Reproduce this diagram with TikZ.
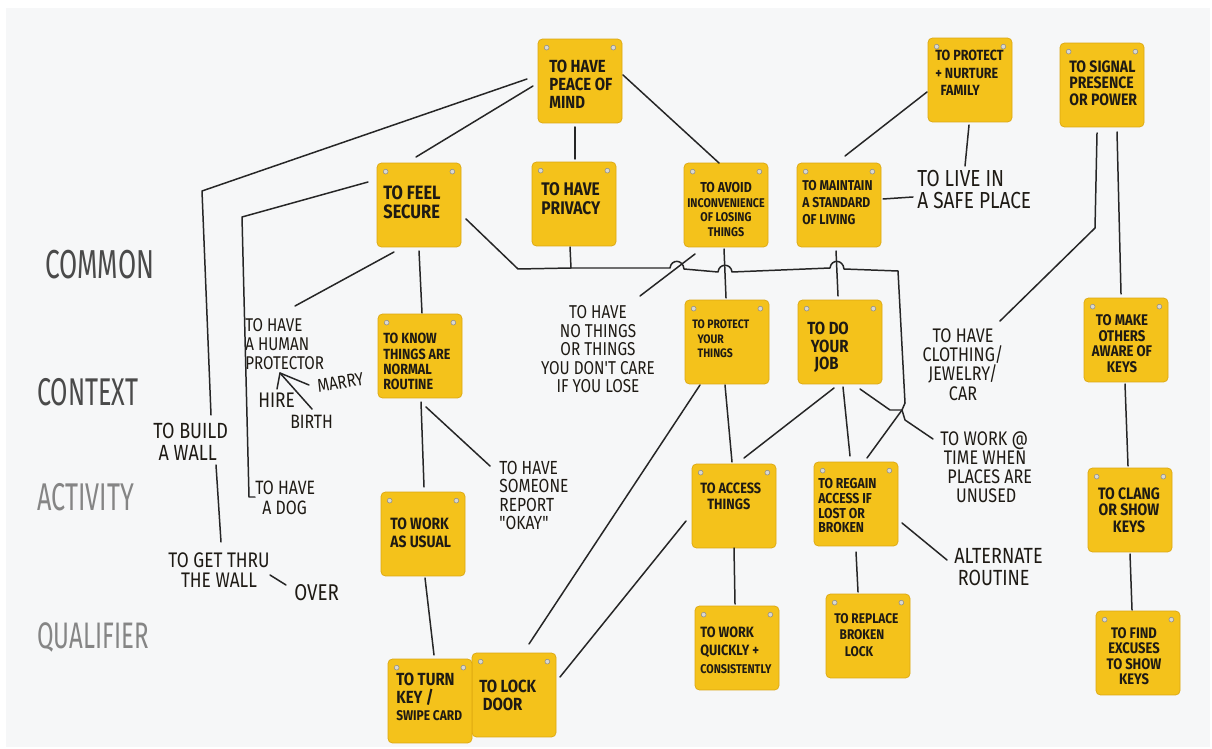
\documentclass[tikz,border=0pt]{standalone}
\usepackage{fontspec}
\setmainfont{Fira Sans}
\newfontfamily\notefnt{Fira Sans}[FakeStretch=0.85]
\newfontfamily\handfnt{Fira Sans}[FakeStretch=0.82]
\newfontfamily\catfnt{Fira Sans}[FakeStretch=0.65]
\usetikzlibrary{calc}
\definecolor{boardc}{HTML}{F6F7F8}
\definecolor{notey}{HTML}{F4C21B}
\definecolor{noteedge}{HTML}{DCA710}
\definecolor{inkc}{HTML}{1E1A14}
\definecolor{linec}{HTML}{262626}
\definecolor{catdark}{HTML}{4A4A4A}
\definecolor{catlight}{HTML}{858585}
\definecolor{pinc}{HTML}{DAD8D0}
\newcommand{\nfs}[2]{\notefnt\bfseries\fontsize{#1}{#2}\selectfont}
\newcommand{\hfs}[2]{\handfnt\fontsize{#1}{#2}\selectfont}
\newcommand{\cfs}[1]{\catfnt\fontsize{#1}{#1}\selectfont}
\begin{document}
\begin{tikzpicture}[x=0.02cm,y=-0.02cm,
  note/.style={draw=noteedge, fill=notey, line width=0.4pt, rounded corners=2.5pt,
    minimum width=1.68cm, minimum height=1.68cm, inner sep=0},
  ntext/.style={inner sep=0, anchor=north west, align=left, text=inkc},
  ntextc/.style={inner sep=0, anchor=north, align=center, text=inkc},
  htext/.style={inner sep=0, anchor=north west, align=left, text=inkc},
  htextc/.style={inner sep=0, anchor=north, align=center, text=inkc},
  cat/.style={inner sep=0, anchor=north west},
  conn/.style={draw=linec, line width=0.85pt, line cap=round, line join=round},
  pin/.style={fill=pinc, draw=black!45, line width=0.3pt}]
\useasboundingbox (0,0) rectangle (1212,749);
\fill[white] (0,0) rectangle (1212,749);
\fill[boardc] (6,8) rectangle (1210,747);

% ---------- category labels ----------
\node[cat, text=catdark, font=\cfs{23}] (cCommon) at (45,250) {COMMON};
\node[cat, text=catdark, font=\cfs{22}] (cContext) at (37,378) {CONTEXT};
\node[cat, text=catlight, font=\cfs{22}] (cActivity) at (37,483) {ACTIVITY};
\node[cat, text=catlight, font=\cfs{21}] (cQualifier) at (37,622) {QUALIFIER};

% ---------- notes ----------
\node[note] (peace) at (580,81) {};
\node[note] (secure) at (419,205) {};
\node[note] (privacy) at (574,204) {};
\node[note] (avoid) at (726,205) {};
\node[note] (maintain) at (839,205) {};
\node[note] (family) at (970,80) {};
\node[note] (signal) at (1102,85) {};
\node[note] (know) at (420,356) {};
\node[note] (protect) at (727,342) {};
\node[note] (job) at (840,342) {};
\node[note] (make) at (1126,340) {};
\node[note] (usual) at (423,534) {};
\node[note] (access) at (734,506) {};
\node[note] (regain) at (856,504) {};
\node[note] (clang) at (1130,510) {};
\node[note] (lockdoor) at (514,695) {};
\node[note] (turnkey) at (430,701) {};
\node[note] (quick) at (737,648) {};
\node[note] (replace) at (868,636) {};
\node[note] (excuses) at (1138,653) {};

\foreach \n in {peace,secure,privacy,avoid,maintain,family,signal,know,protect,job,make,usual,access,regain,clang,lockdoor,turnkey,quick,replace,excuses}{
  \filldraw[pin] ($(\n.north west)+(9,9)$) circle[radius=2.4];
  \filldraw[pin] ($(\n.north east)+(-9,9)$) circle[radius=2.4];
}

% ---------- note texts ----------
\node[ntext, font=\nfs{10}{10.2}] (tpeace) at (549,60) {TO HAVE\\PEACE OF\\MIND};
\node[ntext, font=\nfs{11}{11.3}] (tsecure) at (383,185) {TO FEEL\\SECURE};
\node[ntext, font=\nfs{10.4}{11}] (tprivacy) at (541,182) {TO HAVE\\PRIVACY};
\node[ntextc, font=\nfs{7.2}{8.3}] (tavoid) at (726,182) {{\fontsize{8.2}{8.3}\selectfont TO AVOID}\\INCONVENIENCE\\OF LOSING\\THINGS};
\node[ntext, font=\nfs{8.1}{9.6}] (tmaintain) at (802,180) {TO MAINTAIN\\A STANDARD\\OF LIVING};
\node[ntext, font=\nfs{8.4}{9.9}] (tfamily) at (935,50) {TO PROTECT\\+ NURTURE\\\hspace*{3pt}FAMILY};
\node[ntext, font=\nfs{9.4}{9.6}] (tsignal) at (1069,60) {TO SIGNAL\\PRESENCE\\OR POWER};
\node[ntext, font=\nfs{8.4}{8.7}] (tknow) at (383,333) {TO KNOW\\THINGS ARE\\NORMAL\\ROUTINE};
\node[ntext, font=\nfs{7}{8.5}] (tprotect) at (692,319) {TO PROTECT\\\hspace*{3pt}YOUR\\\hspace*{3pt}THINGS};
\node[ntext, font=\nfs{10}{10}] (tjob) at (807,322) {TO DO\\\hspace*{2pt}YOUR\\\hspace*{4pt}JOB};
\node[ntextc, font=\nfs{8.8}{9}] (tmake) at (1122,314) {TO MAKE\\OTHERS\\AWARE OF\\KEYS};
\node[ntext, font=\nfs{9.3}{10.2}] (tusual) at (390,518) {TO WORK\\AS USUAL};
\node[ntext, font=\nfs{8.5}{9}] (taccess) at (700,483) {TO ACCESS\\\hspace*{4pt}THINGS};
\node[ntext, font=\nfs{8.2}{8.4}] (tregain) at (818,478) {TO REGAIN\\ACCESS IF\\LOST OR\\BROKEN};
\node[ntextc, font=\nfs{9.4}{9.6}] (tclang) at (1129,487) {TO CLANG\\OR SHOW\\KEYS};
\node[ntext, font=\nfs{10}{10}] (tturnkey) at (396,673) {TO TURN\\KEY /\\{\fontsize{8}{11}\selectfont SWIPE CARD}};
\node[ntext, font=\nfs{10}{10}] (tlockdoor) at (479,680) {TO LOCK\\\hspace*{2pt}DOOR};
\node[ntext, font=\nfs{8.5}{10.2}] (tquick) at (700,627) {TO WORK\\QUICKLY +\\{\fontsize{7.2}{10}\selectfont CONSISTENTLY}};
\node[ntext, font=\nfs{8}{9.4}] (treplace) at (834,613) {TO REPLACE\\\hspace*{3pt}BROKEN\\\hspace*{6pt}LOCK};
\node[ntextc, font=\nfs{8.7}{8.8}] (texcuses) at (1134,627) {TO FIND\\EXCUSES\\TO SHOW\\KEYS};

% ---------- board labels ----------
\node[htext, font=\hfs{10.5}{10.8}] (lHuman) at (245,318) {TO HAVE\\A HUMAN\\PROTECTOR};
\node[htext, font=\hfs{12}{12}] (lHire) at (258,393) {HIRE};
\node[htext, font=\hfs{10.5}{10.5}, rotate=10] (lMarry) at (316,380) {MARRY};
\node[htext, font=\hfs{11}{11}] (lBirth) at (290,415) {BIRTH};
\node[htext, font=\hfs{12.5}{12.3}] (lWall) at (153,423) {TO BUILD\\\hspace*{3pt}A WALL};
\node[htext, font=\hfs{11}{11}] (lDog) at (255,481) {TO HAVE\\\hspace*{4pt}A DOG};
\node[htextc, font=\hfs{12}{11.6}] (lThru) at (219,552) {TO GET THRU\\THE WALL};
\node[htext, font=\hfs{13}{13}] (lOver) at (294,584) {OVER};
\node[htextc, font=\hfs{10.6}{10.6}] (lNoThings) at (598,305) {TO HAVE\\NO THINGS\\OR THINGS\\YOU DON'T CARE\\IF YOU LOSE};
\node[htext, font=\hfs{13.2}{12.5}] (lSafe) at (917,170) {TO LIVE IN\\A SAFE PLACE};
\node[htext, font=\hfs{10.8}{10.4}] (lSomeone) at (499,461) {TO HAVE\\SOMEONE\\REPORT\\"OKAY"};
\node[htextc, font=\hfs{11.2}{11}] (lClothing) at (963,328) {TO HAVE\\CLOTHING/\\JEWELRY/\\CAR};
\node[htext, font=\hfs{11.2}{10.8}] (lWorkTime) at (940,431) {TO WORK @\\\hspace*{2pt}TIME WHEN\\\hspace*{4pt}PLACES ARE\\\hspace*{9pt}UNUSED};
\node[htext, font=\hfs{12.5}{12.4}] (lAlternate) at (954,548) {ALTERNATE\\\hspace*{2pt}ROUTINE};

% ---------- free-end coordinates ----------
\coordinate (wallC) at (202,191);
\coordinate (wallTop) at (211,415);
\coordinate (wallBot) at (216,465);
\coordinate (thruTop) at (221,542);
\coordinate (dogC) at (242,217);
\coordinate (dogB) at (249,497);
\coordinate (dogE) at (255,497);
\coordinate (humanE) at (295,306);
\coordinate (busA) at (518,269);
\coordinate (busP) at (571,268);
\coordinate (busR) at (898,271);
\coordinate (busD) at (905,403);
\coordinate (J) at (902,410);
\coordinate (noTop) at (640,296);
\coordinate (safeTop) at (965,166);
\coordinate (safeLeft) at (913,197);
\coordinate (sigC) at (1095,228);
\coordinate (clothE) at (1000,321);
\coordinate (jobJ) at (890,410);
\coordinate (workJ) at (905,420);
\coordinate (workE) at (933,439);
\coordinate (altE) at (947,560);
\coordinate (someoneE) at (490,466);
\coordinate (wallOverA) at (270,575);
\coordinate (wallOverB) at (286,585);
\coordinate (tip) at (280,373);
\coordinate (wHire) at (277,389);
\coordinate (wMarry) at (309,385);
\coordinate (wBirth) at (312,409);

% ---------- connectors ----------
\draw[conn] ($(peace)+(-53,-2)$) -- (wallC) -- (wallTop);
\draw[conn] (wallBot) -- (thruTop);
\draw[conn] ($(peace)+(-47,5)$) -- ($(secure)+(-3,-48)$);
\draw[conn] ($(secure)+(-51,-23)$) -- (dogC) -- (dogB) -- (dogE);
\draw[conn] ($(secure)+(-25,47)$) -- (humanE);
\draw[conn] ($(secure)+(0,46)$) -- ($(know)+(2,-43)$);
% bus with hops
\draw[conn] ($(secure)+(47,14)$) -- (busA) -- (busP) -- (670,268)
  .. controls (671,259) and (683,259) .. (684,269) -- (718,272)
  .. controls (719,263) and (731,263) .. (732,272) -- (830,268)
  .. controls (831,259) and (843,259) .. (844,269) -- (busR) -- (busD) -- (J);
\draw[conn] ($(privacy)+(-4,43)$) -- (busP);
\draw[conn] ($(peace)+(-5,46)$) -- ($(privacy)+(1,-45)$);
\draw[conn] ($(peace)+(43,-6)$) -- ($(avoid)+(-7,-42)$);
\draw[conn] (noTop) -- ($(avoid)+(-31,49)$);
\draw[conn] ($(avoid)+(-2,44)$) -- ($(protect)+(-1,-44)$);
\draw[conn] ($(maintain)+(-3,46)$) -- ($(job)+(-2,-46)$);
\draw[conn] ($(maintain)+(6,-49)$) -- ($(family)+(-43,12)$);
\draw[conn] ($(family)+(-1,45)$) -- (safeTop);
\draw[conn] ($(maintain)+(44,-6)$) -- (safeLeft);
\draw[conn] ($(signal)+(-5,48)$) -- (sigC) -- (clothE);
\draw[conn] ($(signal)+(15,47)$) -- ($(make)+(-5,-46)$);
\draw[conn] ($(make)+(-1,44)$) -- ($(clang)+(-2,-44)$);
\draw[conn] ($(clang)+(0,44)$) -- ($(excuses)+(-6,-43)$);
\draw[conn] ($(protect)+(-2,43)$) -- ($(access)+(-2,-44)$);
\draw[conn] ($(job)+(-6,46)$) -- ($(access)+(10,-48)$);
\draw[conn] ($(job)+(3,45)$) -- ($(regain)+(-6,-48)$);
\draw[conn] ($(job)+(20,47)$) -- (jobJ) -- (J) -- (workJ) -- (workE);
\draw[conn] (J) -- ($(regain)+(11,-46)$);
\draw[conn] ($(protect)+(-27,43)$) -- ($(lockdoor)+(15,-51)$);
\draw[conn] ($(access)+(-48,15)$) -- ($(lockdoor)+(46,-18)$);
\draw[conn] ($(access)+(0,42)$) -- ($(quick)+(-2,-44)$);
\draw[conn] ($(regain)+(0,48)$) -- ($(replace)+(-10,-44)$);
\draw[conn] ($(regain)+(46,19)$) -- (altE);
\draw[conn] ($(know)+(1,46)$) -- ($(usual)+(1,-47)$);
\draw[conn] ($(usual)+(2,44)$) -- ($(turnkey)+(4,-46)$);
\draw[conn] ($(know)+(6,51)$) -- (someoneE);
\draw[conn] (wallOverA) -- (wallOverB);
\draw[conn] (wHire) -- (tip) -- (wMarry);
\draw[conn] (wBirth) -- (tip);
\end{tikzpicture}
\end{document}
